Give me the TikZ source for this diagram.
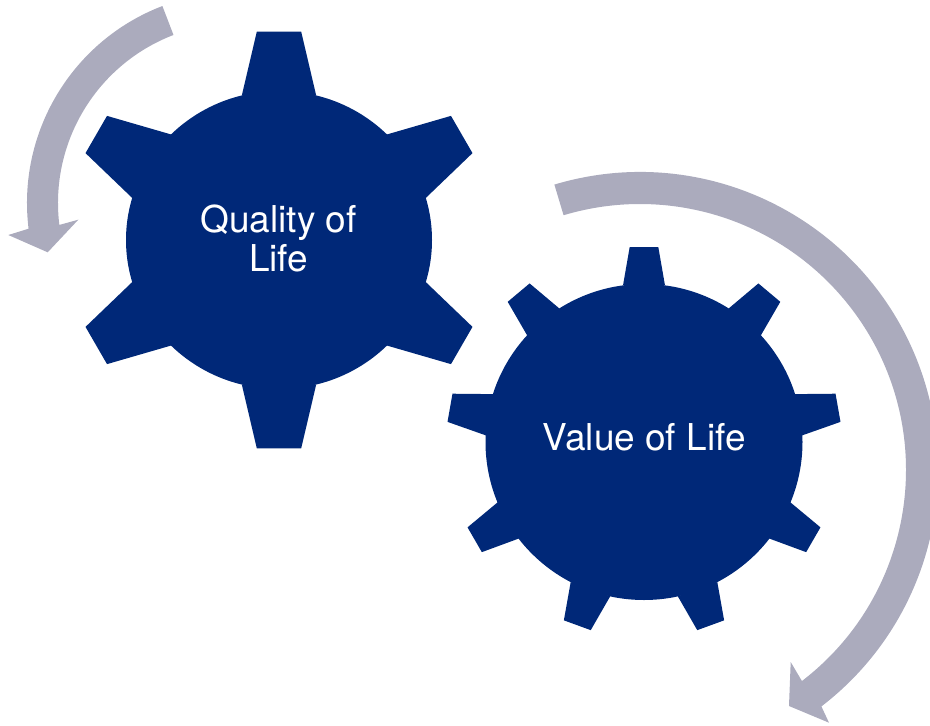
\documentclass[tikz,border=0pt]{standalone}
\usepackage{fontspec}
\setmainfont{TeX Gyre Heros}
\usetikzlibrary{shapes.geometric}
\definecolor{gearblue}{RGB}{0,40,120}
\definecolor{arrowgrey}{RGB}{171,171,189}
\tikzset{
    gearbody/.style={shape=ellipse, fill=gearblue, inner sep=0pt},
    geartext/.style={text=white, align=center, inner sep=0pt, anchor=base, font=\fontsize{37}{39}\selectfont},
    geartooth/.style={fill=gearblue},
    turnarrow/.style={fill=arrowgrey}}

\begin{document}
\begin{tikzpicture}[x=1pt, y=1pt]

        \clip (0,0) rectangle (930,-726);

            \node[gearbody, minimum width=306pt, minimum height=298pt] (Q) at (279,-240) {};
            \node[gearbody, minimum width=317pt, minimum height=316pt] (V) at (644,-442) {};

            % teeth: angle / half width at base / base / half width at tip / tip
            \foreach \a/\bw/\bh/\tw/\th in {0/37.2/144.5/22.2/208.3, 60/37.5/146/21.5/211, 120/37.5/146/21.5/211, 180/37.2/144.5/22.2/208.3, 240/37.5/146/21.5/211, 300/37.5/146/21.5/211}
                \fill[geartooth, shift={(Q.center)}, rotate=\a] (-\bw,\bh) -- (-\tw,\th) -- (\tw,\th) -- (\bw,\bh) -- cycle;
            \foreach \a/\th in {0/195, 40/195, 80/197, 120/195.5, 160/195, 200/195, 240/195.5, 280/197, 320/195}
                \fill[geartooth, shift={(V.center)}, rotate=\a] (-21,156.6) -- (-14.3,\th) -- (14.3,\th) -- (21,156.6) -- cycle;

            \node[geartext] (Qlabel) at (278.6,-271.6) {Quality of\\Life};
            \node[geartext] (Vlabel) at (644.2,-450) {Value of Life};

            \coordinate (C1) at (238,-203);
            \coordinate (C2) at (640,-470);

            \fill[turnarrow] ([shift={(111:211)}]C1) arc[start angle=111, end angle=187, radius=211]
                -- (8.3,-235) -- (47.7,-252.3) -- (78.3,-219.7)
                -- ([shift={(187:180)}]C1) arc[start angle=187, end angle=111, radius=180] -- cycle;
            \fill[turnarrow] ([shift={(106.7:298)}]C2) arc[start angle=106.7, end angle=-52.5, radius=298]
                -- (829,-722.7) -- (789,-706) -- (790.7,-662)
                -- ([shift={(-52.5:266)}]C2) arc[start angle=-52.5, end angle=106.7, radius=266] -- cycle;

        \end{tikzpicture}
\end{document}
